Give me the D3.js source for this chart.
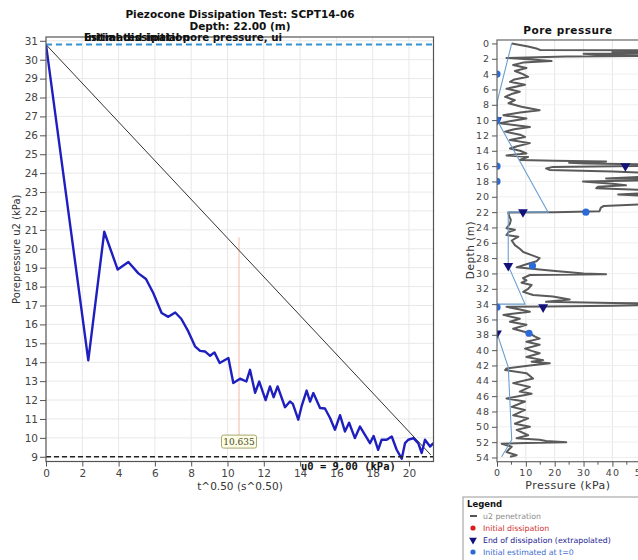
<!DOCTYPE html>
<html>
<head>
<meta charset="utf-8">
<script src="https://cdn.jsdelivr.net/npm/d3@7"></script>
<style>
  html, body { margin: 0; padding: 0; background: #fff; }
  svg { display: block; font-family: "DejaVu Sans", Verdana, sans-serif; }
</style>
</head>
<body>
<svg id="chart" width="638" height="560"></svg>
<script>
// ---- Dissipation record: sqrt(time) vs measured pore pressure u2 ----
const sqrtTime = [0, 2.33, 3.21, 3.95, 4.54, 5.09, 5.51, 5.91, 6.37, 6.74, 7.12, 7.45, 7.84, 8.21, 8.49, 8.76, 9.04, 9.28, 9.57, 10.05,
  10.32, 10.69, 11.04, 11.24, 11.52, 11.75, 12.1, 12.34, 12.54, 12.76, 13.17, 13.44, 13.6, 13.9, 14.08, 14.36, 14.55, 14.73, 15.1, 15.37,
  15.65, 15.92, 16.2, 16.47, 16.7, 17.02, 17.3, 17.55, 17.85, 18.05, 18.3, 18.49, 18.77, 19.05, 19.32, 19.6, 19.78, 19.96, 20.24, 20.51,
  20.7, 20.88, 21.16, 21.34];
const porePressure = [30.8, 14.1, 20.9, 18.9, 19.3, 18.7, 18.4, 17.66, 16.6, 16.4, 16.63, 16.3, 15.63, 14.84, 14.6, 14.57, 14.34, 14.52, 13.96, 14.22,
  12.9, 13.13, 12.98, 13.6, 12.38, 12.98, 12.0, 12.72, 12.15, 12.72, 11.62, 11.92, 11.8, 10.96, 11.66, 12.5, 11.92, 12.37, 11.58, 11.55,
  11.05, 10.43, 11.2, 10.34, 10.8, 9.99, 10.6, 10.2, 9.72, 10.1, 9.37, 9.9, 9.9, 10.07, 9.37, 8.9, 9.72, 9.9, 9.99, 9.72,
  9.2, 9.9, 9.54, 9.72];

const initialPorePressure = 30.8;   // ui (kPa)
const equilibriumPressure = 9.0;    // u0 (kPa)
const trendEnd = [21.2, 9.1];       // end of the ui -> u0 trend line [sqrt(t), kPa]
const cursorValue = 10.635;         // sqrt(t) of the readout marker

const xTicksLeft = [0, 2, 4, 6, 8, 10, 12, 14, 16, 18, 20];
const yTicksLeft = d3.range(9, 32, 1);

// ---- CPT pore pressure profile (u2 during penetration) ----
const profileDepth = [0, 0.4, 0.7, 0.85, 0.9, 1.1, 1.2, 1.35, 1.5, 1.6, 1.7, 1.9, 2.1, 2.3, 2.5, 2.8, 3.2, 3.6, 4.0, 4.35,
  4.7, 5.0, 5.4, 5.9, 6.3, 6.6, 6.96, 7.4, 7.8, 8.26, 8.7, 9.0, 9.35, 9.8, 10.1, 10.4, 10.9, 11.2, 11.5, 11.9,
  12.2, 12.6, 13.0, 13.4, 13.7, 14.0, 14.35, 14.6, 14.8, 15.2, 15.3, 15.4, 15.55, 15.65, 15.8, 15.95, 16.1, 16.3, 16.5, 16.7,
  17.0, 17.3, 17.6, 17.8, 18.0, 18.3, 18.5, 18.7, 18.9, 19.1, 19.4, 19.7, 20.0, 20.5, 21.0, 21.2, 21.4, 21.9, 22.0, 22.05,
  22.5, 23.0, 23.5, 24.1, 24.3, 24.6, 25.0, 25.2, 25.7, 26.3, 26.8, 27.2, 27.6, 28.0, 28.4, 28.8, 29.2, 29.6, 30.0, 30.1,
  30.2, 30.6, 30.9, 31.2, 31.5, 32.0, 32.4, 32.8, 33.0, 33.4, 33.7, 33.85, 33.9, 34.1, 34.2, 34.3, 34.35, 34.7, 35.0, 35.4,
  35.9, 36.3, 36.7, 37.2, 37.8, 38.2, 38.5, 38.9, 39.3, 39.8, 40.1, 40.4, 40.9, 41.3, 41.5, 41.7, 42.0, 42.4, 42.6, 43.0,
  43.7, 44.3, 44.8, 45.4, 45.7, 46.3, 46.7, 47.4, 47.8, 48.5, 48.9, 49.6, 50.0, 50.4, 51.1, 51.5, 51.7, 51.85, 52.0, 52.1,
  52.2, 52.6, 53.0, 53.3, 53.7, 53.9];
const profilePressure = [5.1, 10.8, 14, 15, 62, 40, 62, 30, 36.7, 60, 24, 3.3, 12, 18.9, 9, 5.6, 10.2, 6.2, 9, 10.8,
  6, 4.5, 9.7, 3.3, 7.9, 5, 2.8, 6.2, 4, 8.5, 14.8, 8, 2.2, 10.2, 5, 1.0, 11.4, 6, 2.8, 8,
  9.7, 4.5, 11.4, 7, 4.5, 8, 10.2, 3.3, 10.8, 7.9, 20, 37.8, 25, 30.9, 55, 60, 19.4, 17, 18.2, 40,
  60, 55, 37.8, 62, 29.8, 40, 44.7, 35, 34.4, 50, 60, 42, 60, 62, 50, 37, 36, 35.5, 20, 3.9,
  4.2, 4.8, 4.5, 3.3, 6.2, 4, 3.3, 7.4, 5.1, 6.2, 8, 9.1, 12.0, 14.8, 13.7, 10.2, 6.8, 18.3, 30, 37.8,
  11.4, 9, 10.2, 8.5, 12.0, 10.8, 9.1, 12.5, 19.4, 25.2, 17.0, 40, 62, 62, 40, 17, 3.3, 8, 11.4, 2.2,
  7.9, 4.5, 10.2, 5.6, 11.4, 13, 14.8, 10.2, 14.8, 9.7, 12, 14.8, 10.2, 16, 12, 18.3, 11.4, 3.3, 2.8, 10.2,
  12.5, 5.6, 11.4, 7.9, 12.0, 3.3, 9.7, 5.1, 9.7, 5.6, 10.8, 6.2, 11.4, 6.8, 10.8, 6.8, 14.8, 17, 24.0, 10,
  1.6, 5.1, 4, 3.3, 6.8, 4.5];

// interpreted equilibrium trend through the test depths
const trendDepth = [0, 7.4, 10, 22, 22, 29, 34, 34, 37.8, 42.2, 51.7, 53.9];
const trendPressure = [5.1, 0.2, 0, 17.7, 3.9, 3.9, 9.7, 0, 0, 3.9, 5.1, 1.6];

// dissipation test results per depth
const estDepth = [4, 10, 16, 18, 22, 29, 34.4, 37.8];
const estPressure = [0, 0, 0, 0, 30.8, 12.3, 0, 11.1];
const endDepth = [10, 16, 22, 29, 34.4, 37.8];
const endPressure = [0, 44.5, 9.0, 3.9, 16.0, 0];

const depthTicks = d3.range(0, 55, 2);
const pressureTicks = [0, 10, 20, 30, 40, 50, 60];
const pressureMinorTicks = [5, 15, 25, 35, 45, 55];

const legendItems = [
  { label: "u2 penetration", kind: "line", color: "#555", text: "#8a8a8a" },
  { label: "Initial dissipation", kind: "circle", color: "#d42020", text: "#d03030" },
  { label: "End of dissipation (extrapolated)", kind: "triangle", color: "#12127a", text: "#1a1a90" },
  { label: "Initial estimated at t=0", kind: "circle", color: "#2c6ad8", text: "#3a6ad0" }
];

const svg = d3.select("#chart");
const tickColor = "#444";

// ================= Left: dissipation curve =================
const L = { left: 46, right: 433.5, top: 37, bottom: 461.5 };
const xL = d3.scaleLinear().domain([0, 21.35]).range([L.left, L.right]);
const yL = d3.scaleLinear().domain([8.75, 31.2]).range([L.bottom, L.top]);

svg.append("defs").append("clipPath").attr("id", "clipL")
  .append("rect").attr("x", L.left).attr("y", L.top)
  .attr("width", L.right - L.left).attr("height", L.bottom - L.top);

const gL = svg.append("g");
// grid
gL.append("g").selectAll("line").data(xTicksLeft.slice(1)).join("line")
  .attr("x1", d => xL(d)).attr("x2", d => xL(d))
  .attr("y1", L.top).attr("y2", L.bottom)
  .attr("stroke", "#e8e8e8").attr("stroke-width", 1);
gL.append("g").selectAll("line").data(yTicksLeft).join("line")
  .attr("x1", L.left).attr("x2", L.right)
  .attr("y1", d => yL(d)).attr("y2", d => yL(d))
  .attr("stroke", "#e8e8e8").attr("stroke-width", 1);

const plotL = gL.append("g").attr("clip-path", "url(#clipL)");

// readout cursor
plotL.append("line")
  .attr("x1", xL(cursorValue)).attr("x2", xL(cursorValue))
  .attr("y1", yL(20.6)).attr("y2", yL(9.85))
  .attr("stroke", "#f2b8a8").attr("stroke-width", 1);

// ui -> u0 trend line
plotL.append("line")
  .attr("x1", xL(0)).attr("y1", yL(initialPorePressure))
  .attr("x2", xL(trendEnd[0])).attr("y2", yL(trendEnd[1]))
  .attr("stroke", "#333").attr("stroke-width", 1);

// measured curve
const lineL = d3.line().x((d, i) => xL(sqrtTime[i])).y(d => yL(d));
plotL.append("path").datum(porePressure)
  .attr("d", lineL)
  .attr("fill", "none").attr("stroke", "#1f1fc0").attr("stroke-width", 2.4)
  .attr("stroke-linejoin", "round");

// ui and u0 reference lines
plotL.append("line")
  .attr("x1", L.left).attr("x2", L.right)
  .attr("y1", yL(initialPorePressure)).attr("y2", yL(initialPorePressure))
  .attr("stroke", "#3592d4").attr("stroke-width", 2).attr("stroke-dasharray", "6,4");
plotL.append("line")
  .attr("x1", L.left).attr("x2", L.right)
  .attr("y1", yL(equilibriumPressure)).attr("y2", yL(equilibriumPressure))
  .attr("stroke", "#222").attr("stroke-width", 1.6).attr("stroke-dasharray", "5,3");

// frame
gL.append("rect").attr("x", L.left).attr("y", L.top)
  .attr("width", L.right - L.left).attr("height", L.bottom - L.top)
  .attr("fill", "none").attr("stroke", "#555").attr("stroke-width", 1.2);

// axes
const axL = gL.append("g").attr("transform", `translate(${L.left},0)`)
  .call(d3.axisLeft(yL).tickValues(yTicksLeft).tickSize(6).tickPadding(2).tickSizeOuter(0));
const axB = gL.append("g").attr("transform", `translate(0,${L.bottom})`)
  .call(d3.axisBottom(xL).tickValues(xTicksLeft).tickSize(5).tickPadding(3).tickSizeOuter(0));
[axL, axB].forEach(a => {
  a.select(".domain").remove();
  a.selectAll(".tick line").attr("stroke", "#555");
  a.selectAll("text").attr("fill", tickColor).style("font-size", "10.5px")
    .style("font-family", "'DejaVu Sans', Verdana, sans-serif");
});

// readout box
const boxW = 35, boxH = 13;
const boxG = gL.append("g").attr("transform", `translate(${xL(cursorValue) - boxW / 2},${yL(9.75) - boxH / 2 - 1})`);
boxG.append("rect").attr("width", boxW).attr("height", boxH).attr("rx", 2)
  .attr("fill", "#fdfde6").attr("stroke", "#a8a870").attr("stroke-width", 1);
boxG.append("text").attr("x", boxW / 2).attr("y", boxH / 2 + 3.3).attr("text-anchor", "middle")
  .style("font-size", "9px").style("font-family", "'DejaVu Serif', serif").attr("fill", "#4a4a2a")
  .text(cursorValue.toFixed(3));

// annotations
gL.append("text").attr("x", xL(14.05)).attr("y", 470)
  .style("font-family", "'DejaVu Sans Mono', monospace").style("font-weight", "bold").style("font-size", "10.5px")
  .attr("fill", "#111").text(`u0 = ${equilibriumPressure.toFixed(2)} (kPa)`);
gL.append("text").attr("x", 84).attr("y", 41)
  .style("font-weight", "bold").style("font-size", "10px").attr("fill", "#111")
  .attr("textLength", 198).attr("lengthAdjust", "spacingAndGlyphs")
  .text("Estimated initial pore pressure, ui");
gL.append("text").attr("x", 84).attr("y", 41)
  .style("font-weight", "bold").style("font-size", "10px").attr("fill", "#111")
  .attr("textLength", 106).attr("lengthAdjust", "spacingAndGlyphs")
  .text("Initial dissipation");

// titles and labels
svg.append("text").attr("x", 240).attr("y", 18).attr("text-anchor", "middle")
  .style("font-weight", "bold").style("font-size", "10.5px").attr("fill", "#111")
  .text("Piezocone Dissipation Test: SCPT14-06");
svg.append("text").attr("x", 240).attr("y", 29.5).attr("text-anchor", "middle")
  .style("font-weight", "bold").style("font-size", "10.5px").attr("fill", "#111")
  .text(`Depth: 22.00 (m)`);
svg.append("text").attr("x", 240).attr("y", 490).attr("text-anchor", "middle")
  .style("font-size", "10.5px").attr("fill", "#333").text("t^0.50 (s^0.50)");
svg.append("text").attr("transform", `translate(20,${(L.top + L.bottom) / 2}) rotate(-90)`)
  .attr("text-anchor", "middle").style("font-size", "10px").attr("fill", "#333")
  .text("Porepressure u2 (kPa)");

// ================= Right: pore pressure profile =================
const R = { left: 497, right: 670, top: 40, bottom: 461.7 };
const xR = d3.scaleLinear().domain([0, 60]).range([R.left, R.left + 60 * 2.885]);
const yR = d3.scaleLinear().domain([-0.45, 54.55]).range([R.top, R.bottom]);

svg.select("defs").append("clipPath").attr("id", "clipR")
  .append("rect").attr("x", R.left).attr("y", R.top)
  .attr("width", R.right - R.left).attr("height", R.bottom - R.top);

const gR = svg.append("g");
gR.append("g").selectAll("line").data(pressureTicks.slice(1)).join("line")
  .attr("x1", d => xR(d)).attr("x2", d => xR(d)).attr("y1", R.top).attr("y2", R.bottom)
  .attr("stroke", "#e6e6e6");
gR.append("g").selectAll("line").data(depthTicks.slice(1)).join("line")
  .attr("x1", R.left).attr("x2", R.right).attr("y1", d => yR(d)).attr("y2", d => yR(d))
  .attr("stroke", "#efefef");

const plotR = gR.append("g").attr("clip-path", "url(#clipR)");
const lineProfile = d3.line().x(d => xR(d)).y((d, i) => yR(profileDepth[i]));
plotR.append("path").datum(profilePressure).attr("d", lineProfile)
  .attr("fill", "none").attr("stroke", "#5a5a5a").attr("stroke-width", 2)
  .attr("stroke-linejoin", "round");
const lineTrend = d3.line().x(d => xR(d)).y((d, i) => yR(trendDepth[i]));
plotR.append("path").datum(trendPressure).attr("d", lineTrend)
  .attr("fill", "none").attr("stroke", "#6a9fd0").attr("stroke-width", 1.1);

plotR.append("g").selectAll("path").data(endPressure).join("path")
  .attr("d", d3.symbol().type(d3.symbolTriangle).size(42))
  .attr("transform", (d, i) => `translate(${xR(d)},${yR(endDepth[i])}) rotate(180)`)
  .attr("fill", "#12127a");
plotR.append("g").selectAll("circle").data(estPressure).join("circle")
  .attr("cx", d => xR(d)).attr("cy", (d, i) => yR(estDepth[i])).attr("r", 3.6)
  .attr("fill", "#2c6ad8");

gR.append("rect").attr("x", R.left).attr("y", R.top)
  .attr("width", R.right - R.left).attr("height", R.bottom - R.top)
  .attr("fill", "none").attr("stroke", "#666").attr("stroke-width", 1.2);

const axRL = gR.append("g").attr("transform", `translate(${R.left},0)`)
  .call(d3.axisLeft(yR).tickValues(depthTicks).tickSize(5).tickPadding(2).tickSizeOuter(0));
const axRB = gR.append("g").attr("transform", `translate(0,${R.bottom})`)
  .call(d3.axisBottom(xR).tickValues(pressureTicks).tickSize(5).tickPadding(3).tickSizeOuter(0));
gR.append("g").selectAll("line").data(pressureMinorTicks).join("line")
  .attr("x1", d => xR(d)).attr("x2", d => xR(d)).attr("y1", R.bottom).attr("y2", R.bottom + 3)
  .attr("stroke", "#555");
[axRL, axRB].forEach(a => {
  a.select(".domain").remove();
  a.selectAll(".tick line").attr("stroke", "#555");
  a.selectAll("text").attr("fill", tickColor).style("font-size", "9.5px")
    .style("letter-spacing", "1px").style("font-family", "'DejaVu Sans', Verdana, sans-serif");
});

svg.append("text").attr("x", 568).attr("y", 34).attr("text-anchor", "middle")
  .style("font-weight", "bold").style("font-size", "10.5px").style("letter-spacing", "0.5px")
  .attr("fill", "#111").text("Pore pressure");
svg.append("text").attr("x", 568).attr("y", 489).attr("text-anchor", "middle")
  .style("font-size", "11px").style("letter-spacing", "0.5px").attr("fill", "#333").text("Pressure (kPa)");
svg.append("text").attr("transform", `translate(474,250) rotate(-90)`).attr("text-anchor", "middle")
  .style("font-size", "10.5px").style("letter-spacing", "0.5px").attr("fill", "#333").text("Depth (m)");

// ================= Legend =================
const lg = svg.append("g").attr("transform", "translate(463,497)");
lg.append("rect").attr("width", 200).attr("height", 70)
  .attr("fill", "#fff").attr("stroke", "#999").attr("stroke-width", 1);
lg.append("text").attr("x", 4).attr("y", 10).style("font-weight", "bold").style("font-size", "8.5px")
  .attr("fill", "#111").text("Legend");
const li = lg.selectAll("g.item").data(legendItems).join("g").attr("class", "item")
  .attr("transform", (d, i) => `translate(0,${19 + i * 12})`);
li.each(function (d) {
  const g = d3.select(this);
  if (d.kind === "line") {
    g.append("line").attr("x1", 7).attr("x2", 14).attr("y1", 0).attr("y2", 0)
      .attr("stroke", d.color).attr("stroke-width", 2);
  } else if (d.kind === "circle") {
    g.append("circle").attr("cx", 10).attr("cy", 0).attr("r", 2.6).attr("fill", d.color);
  } else {
    g.append("path").attr("d", d3.symbol().type(d3.symbolTriangle).size(26))
      .attr("transform", "translate(10,0) rotate(180)").attr("fill", d.color);
  }
  g.append("text").attr("x", 20).attr("y", 3).style("font-size", "7.8px")
    .style("font-family", "Tahoma, 'DejaVu Sans', sans-serif").attr("fill", d.text).text(d.label);
});
</script>
</body>
</html>
